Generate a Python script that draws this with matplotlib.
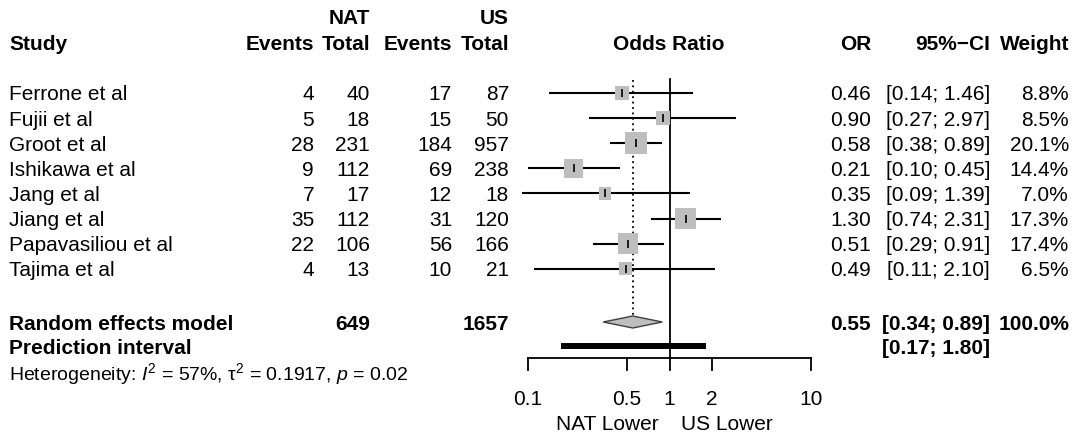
import numpy as np
import matplotlib
matplotlib.use("Agg")
import matplotlib.pyplot as plt

plt.rcParams['font.family'] = ['Liberation Sans', 'DejaVu Sans']
plt.rcParams['mathtext.fontset'] = 'custom'
plt.rcParams['mathtext.rm'] = 'Liberation Sans'
plt.rcParams['mathtext.it'] = 'Liberation Sans:italic'
plt.rcParams['mathtext.bf'] = 'Liberation Sans:bold'

# Study-level data
studies = ["Ferrone et al", "Fujii et al", "Groot et al", "Ishikawa et al",
           "Jang et al", "Jiang et al", "Papavasiliou et al", "Tajima et al"]
nat_events = [4, 5, 28, 9, 7, 35, 22, 4]
nat_total = [40, 18, 231, 112, 17, 112, 106, 13]
us_events = [17, 15, 184, 69, 12, 31, 56, 10]
us_total = [87, 50, 957, 238, 18, 120, 166, 21]
odds_ratio = [0.46, 0.90, 0.58, 0.21, 0.35, 1.30, 0.51, 0.49]
ci_low = [0.14, 0.27, 0.38, 0.10, 0.09, 0.74, 0.29, 0.11]
ci_high = [1.46, 2.97, 0.89, 0.45, 1.39, 2.31, 0.91, 2.10]
weights = [8.8, 8.5, 20.1, 14.4, 7.0, 17.3, 17.4, 6.5]

# Pooled estimate and prediction interval
re_or, re_low, re_high = 0.55, 0.34, 0.89
pi_low, pi_high = 0.17, 1.80
nat_sum, us_sum = 649, 1657
heterogeneity = r"Heterogeneity: $I^2$ = 57%, $\mathrm{τ}^2$ = 0.1917, $p$ = 0.02"

axis_ticks = [0.1, 0.5, 1, 2, 10]
axis_ticklabels = ["0.1", "0.5", "1", "2", "10"]

W, H = 1077, 436
fig = plt.figure(figsize=(W / 100, H / 100), dpi=100)

# table axes in pixel units
tab = fig.add_axes([0, 0, 1, 1])
tab.set_xlim(0, W)
tab.set_ylim(H, 0)
tab.axis('off')

# forest axes on a log scale
fx0, fx1 = 500, 840
fax = fig.add_axes([fx0 / W, 0, (fx1 - fx0) / W, 1])
fax.set_xscale('log')
dec = 141.5
fax.set_xlim(10 ** (-1 - (528 - fx0) / dec), 10 ** (1 + (fx1 - 811) / dec))
fax.set_ylim(H, 0)
fax.axis('off')
fax.patch.set_alpha(0)

fs = 15
row_y = [93 + 25.1 * i for i in range(len(studies))]
y_re, y_pi, y_het = 322, 346, 371
y_top, y_head = 17, 43

col_study = 9
col_right = {'ne': 314, 'nt': 370, 'ue': 452, 'ut': 509,
             'or': 871, 'ci': 990, 'w': 1069}

def txt(x, y, s, ha='right', bold=False, size=fs):
    tab.text(x, y, s, ha=ha, va='center_baseline', fontsize=size,
             fontweight='bold' if bold else 'normal')

# headers
txt(col_right['nt'], y_top, "NAT", bold=True)
txt(col_right['ut'], y_top, "US", bold=True)
txt(col_study, y_head, "Study", ha='left', bold=True)
txt(col_right['ne'], y_head, "Events", bold=True)
txt(col_right['nt'], y_head, "Total", bold=True)
txt(col_right['ue'], y_head, "Events", bold=True)
txt(col_right['ut'], y_head, "Total", bold=True)
txt(669, y_head, "Odds Ratio", ha='center', bold=True)
txt(col_right['or'], y_head, "OR", bold=True)
txt(col_right['ci'], y_head, "95%\u2212CI", bold=True)
txt(col_right['w'], y_head, "Weight", bold=True)

# study rows
for i, y in enumerate(row_y):
    txt(col_study, y, studies[i], ha='left')
    txt(col_right['ne'], y, str(nat_events[i]))
    txt(col_right['nt'], y, str(nat_total[i]))
    txt(col_right['ue'], y, str(us_events[i]))
    txt(col_right['ut'], y, str(us_total[i]))
    txt(col_right['or'], y, f"{odds_ratio[i]:.2f}")
    txt(col_right['ci'], y, f"[{ci_low[i]:.2f}; {ci_high[i]:.2f}]")
    txt(col_right['w'], y, f"{weights[i]:.1f}%")

# summary rows
txt(col_study, y_re, "Random effects model", ha='left', bold=True)
txt(col_right['nt'], y_re, str(nat_sum), bold=True)
txt(col_right['ut'], y_re, str(us_sum), bold=True)
txt(col_right['or'], y_re, f"{re_or:.2f}", bold=True)
txt(col_right['ci'], y_re, f"[{re_low:.2f}; {re_high:.2f}]", bold=True)
txt(col_right['w'], y_re, "100.0%", bold=True)
txt(col_study, y_pi, "Prediction interval", ha='left', bold=True)
txt(col_right['ci'], y_pi, f"[{pi_low:.2f}; {pi_high:.2f}]", bold=True)
txt(col_study, y_het, heterogeneity, ha='left', size=14)

# reference lines
fax.plot([1, 1], [79, 358], color='black', lw=1.3, zorder=1)
fax.plot([re_or, re_or], [80, y_re - 6], color='black', lw=1.3,
         ls=(0, (1, 2)), zorder=1)

# confidence intervals, weighted squares and point marks
fax.hlines(row_y, ci_low, ci_high, color='black', lw=1.5, zorder=2)
side_px = 4.9 * np.sqrt(weights)
fax.scatter(odds_ratio, row_y, marker='s', s=(side_px * 0.72) ** 2,
            color='#BEBEBE', linewidths=0, zorder=3)
fax.scatter(odds_ratio, row_y, marker='|', s=(8 * 0.72) ** 2,
            color='black', linewidths=1.2, zorder=4)

# pooled diamond
fax.fill([re_low, re_or, re_high, re_or],
         [y_re, y_re - 6, y_re, y_re + 6],
         facecolor='#BEBEBE', edgecolor='#404040', lw=1, zorder=3)

# prediction interval bar
fax.plot([pi_low, pi_high], [y_pi, y_pi], color='black', lw=4.3,
         solid_capstyle='butt', zorder=3)

# x axis
y_ax = 358
fax.plot([axis_ticks[0], axis_ticks[-1]], [y_ax, y_ax], color='black', lw=1.3)
for t, lab in zip(axis_ticks, axis_ticklabels):
    fax.plot([t, t], [y_ax, y_ax + 12], color='black', lw=1.3)
    fax.text(t, 397, lab, ha='center', va='center_baseline', fontsize=fs)
txt(659, 422, "NAT Lower", ha='right')
txt(681, 422, "US Lower", ha='left')

fig.savefig("out.png", dpi=100)
